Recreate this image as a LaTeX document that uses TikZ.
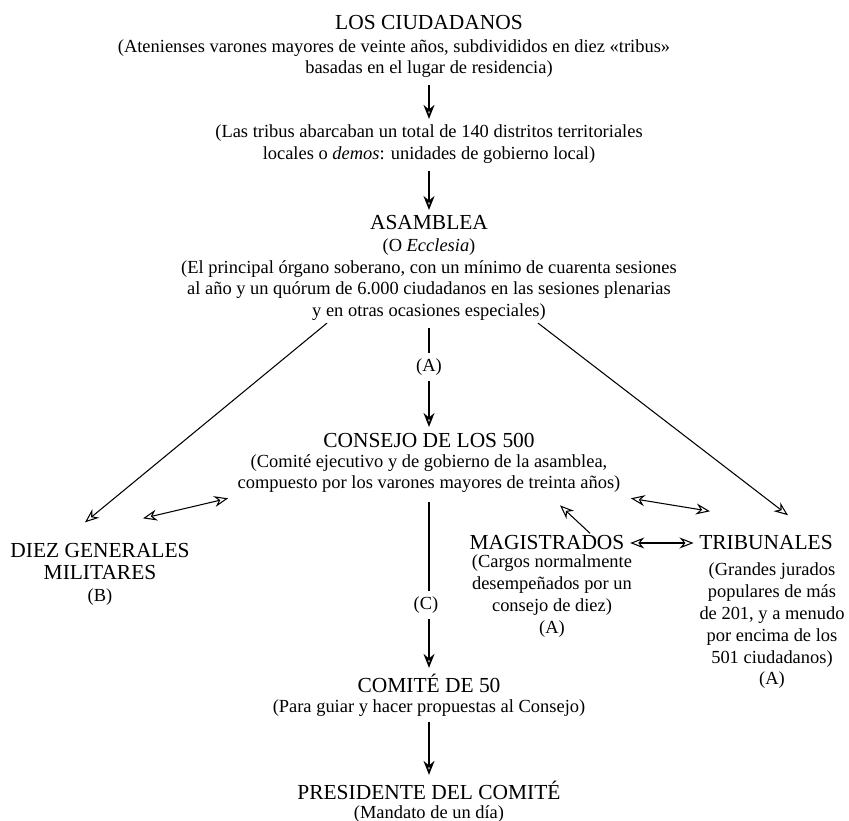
\documentclass[tikz,border=0pt]{standalone}
\usepackage{fontspec}
\setmainfont{Liberation Serif}
\usepackage{tikz}
\usetikzlibrary{arrows.meta}
\usetikzlibrary{calc}
\usetikzlibrary{positioning}
\tikzset{
    titl/.style = {align=center, inner sep=0pt, font=\fontsize{12.2}{13}\selectfont},
    desc/.style = {align=center, inner sep=0pt, font=\fontsize{10.5}{12.4}\selectfont},
}
\begin{document}
\begin{tikzpicture}[
	x=0.02cm,
	y=-0.02cm,
	line width=0.6pt
]
\tikzset{
    edgea/.style = {-{Stealth[open,length=2.8mm,width=2.2mm]}},
    edgev/.style = {-{Stealth[open,length=2.8mm,width=2.2mm]},line width=1pt},
    edged/.style = {{Stealth[open,length=2.8mm,width=2.2mm]}-{Stealth[open,length=2.8mm,width=2.2mm]}},
}
\useasboundingbox (0,0) rectangle (849,821);
\node[titl] at (429,23) (ciudT) {LOS CIUDADANOS};
\node[desc] at (429,58.5) (ciudD) {(Atenienses varones mayores de veinte años, subdivididos en diez «tribus»\hspace*{1.4cm}\\basadas en el lugar de residencia)};
\node[desc] at (429,144) (tribus) {(Las tribus abarcaban un total de 140 distritos territoriales\\locales o \textit{demos}: unidades de gobierno local)};
\node[titl] at (429,223) (asamT) {ASAMBLEA};
\node[desc] at (429,279.5) (asamD) {(O \textit{Ecclesia})\\(El principal órgano soberano, con un mínimo de cuarenta sesiones\\al año y un quórum de 6.000 ciudadanos en las sesiones plenarias\\y en otras ocasiones especiales)};
\node[desc] at (429,367) (labA) {(A)};
\node[titl] at (429,440) (consT) {CONSEJO DE LOS 500};
\node[desc] at (429,473.5) (consD) {(Comité ejecutivo y de gobierno de la asamblea,\\compuesto por los varones mayores de treinta años)};
\node[titl] at (100,561.5) (diezT) {DIEZ GENERALES\\MILITARES};
\node[desc] at (100,597) (diezD) {(B)};
\node[titl] at (547,543) (magT) {MAGISTRADOS};
\node[desc] at (552,596) (magD) {(Cargos normalmente\\desempeñados por un\\consejo de diez)\\(A)};
\node[titl] at (766,543) (tribT) {TRIBUNALES};
\node[desc] at (772,626) (tribD) {(Grandes jurados\\populares de más\\de 201, y a menudo\\por encima de los\\501 ciudadanos)\\(A)};
\node[desc] at (426,605) (labC) {(C)};
\node[titl] at (429,683) (comT) {COMITÉ DE 50};
\node[desc] at (429,708) (comD) {(Para guiar y hacer propuestas al Consejo)};
\node[titl] at (429,790) (presT) {PRESIDENTE DEL COMITÉ};
\node[desc] at (429,814) (presD) {(Mandato de un día)};
%
\draw[edgev,shorten <=4pt,shorten >=3pt] (ciudD.south) -- (tribus.north);
\draw[edgev,shorten <=4pt,shorten >=3pt] (tribus.south) -- (asamT.north);
\draw[line width=1pt,shorten <=4pt,shorten >=3pt] (asamD.south) -- (labA.north);
\draw[edgev,shorten <=3pt,shorten >=3pt] (labA.south) -- (consT.north);
%
\draw[edgea] ($(asamD.south)+(-102,2)$) -- ($(diezT.north)+(-15,-20)$);
\draw[edgea] ($(asamD.south)+(109,2)$) -- ($(tribT.north)+(22,-20)$);
\draw[edged] ($(diezT.north)+(43,-24)$) -- ($(consD.south west)+(-9,5)$);
\draw[edged] ($(consD.south east)+(10,5)$) -- ($(tribT.north)+(-56,-24)$);
\draw[edgea] ($(magT.north)+(43,-2)$) -- ($(consD.south)+(131,12)$);
\draw[edged,shorten <=3pt,shorten >=3pt] (magT.east) -- (tribT.west);
%
\draw[line width=1pt,shorten <=5pt,shorten >=3pt] (consD.south) -- (consD.south |- labC.north);
\draw[edgev,shorten <=3pt,shorten >=3pt] (consD.south |- labC.south) -- (comT.north);
\draw[edgev,shorten <=3pt,shorten >=3pt] (comD.south) -- (presT.north);
\end{tikzpicture}
\end{document}
